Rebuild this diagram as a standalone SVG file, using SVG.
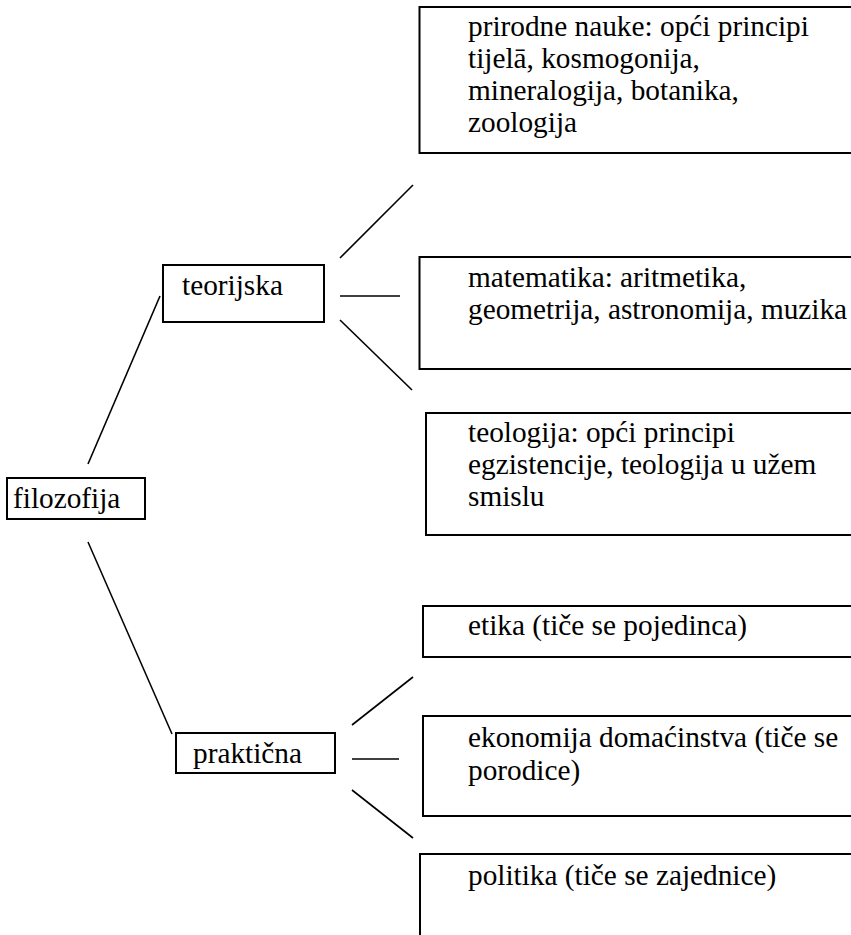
<svg xmlns="http://www.w3.org/2000/svg" width="851" height="935" viewBox="0 0 851 935">
<style>
.box{fill:#fff;stroke:#000;stroke-width:2}
.t{font-family:'Liberation Serif','DejaVu Serif',serif;font-size:29.3px;fill:#000}
.c{stroke:#000;stroke-width:1.6;fill:none}
</style>
<rect width="851" height="935" fill="#fff"/>
<g id="connectors">
<line class="c" x1="88" y1="464" x2="160" y2="296"/>
<line class="c" x1="88" y1="542" x2="172" y2="734"/>
<line class="c" x1="340" y1="258" x2="413" y2="185"/>
<line class="c" x1="340" y1="296" x2="400" y2="296"/>
<line class="c" x1="340" y1="320" x2="412" y2="390"/>
<line class="c" x1="352" y1="725" x2="413" y2="677"/>
<line class="c" x1="352" y1="759" x2="399" y2="759"/>
<line class="c" x1="352" y1="790" x2="413" y2="838"/>
</g>
<g id="filozofija">
<rect class="box" x="7" y="478" width="138" height="41"/>
<text class="t" x="13" y="508">filozofija</text>
</g>
<g id="teorijska">
<rect class="box" x="163" y="265" width="161" height="57"/>
<text class="t" x="182" y="295">teorijska</text>
</g>
<g id="prakticna">
<rect class="box" x="176" y="733" width="159" height="40"/>
<text class="t" x="193" y="763">praktična</text>
</g>
<g id="prirodne">
<rect class="box" x="419.5" y="7" width="440" height="146"/>
<text class="t"><tspan x="468" y="36">prirodne nauke: opći principi</tspan><tspan x="468" y="68">tijelā, kosmogonija,</tspan><tspan x="468" y="100">mineralogija, botanika,</tspan><tspan x="468" y="132">zoologija</tspan></text>
</g>
<g id="matematika">
<rect class="box" x="419.5" y="257" width="440" height="112"/>
<text class="t"><tspan x="468" y="287">matematika: aritmetika,</tspan><tspan x="468" y="319">geometrija, astronomija, muzika</tspan></text>
</g>
<g id="teologija">
<rect class="box" x="426" y="413" width="440" height="122"/>
<text class="t"><tspan x="468" y="442">teologija: opći principi</tspan><tspan x="468" y="474">egzistencije, teologija u užem</tspan><tspan x="468" y="506">smislu</tspan></text>
</g>
<g id="etika">
<rect class="box" x="423" y="606" width="440" height="51"/>
<text class="t" x="468" y="635">etika (tiče se pojedinca)</text>
</g>
<g id="ekonomija">
<rect class="box" x="423" y="716" width="440" height="100"/>
<text class="t"><tspan x="468" y="747">ekonomija domaćinstva (tiče se</tspan><tspan x="468" y="780">porodice)</tspan></text>
</g>
<g id="politika">
<rect class="box" x="420" y="854" width="440" height="100"/>
<text class="t" x="468" y="885">politika (tiče se zajednice)</text>
</g>
</svg>
